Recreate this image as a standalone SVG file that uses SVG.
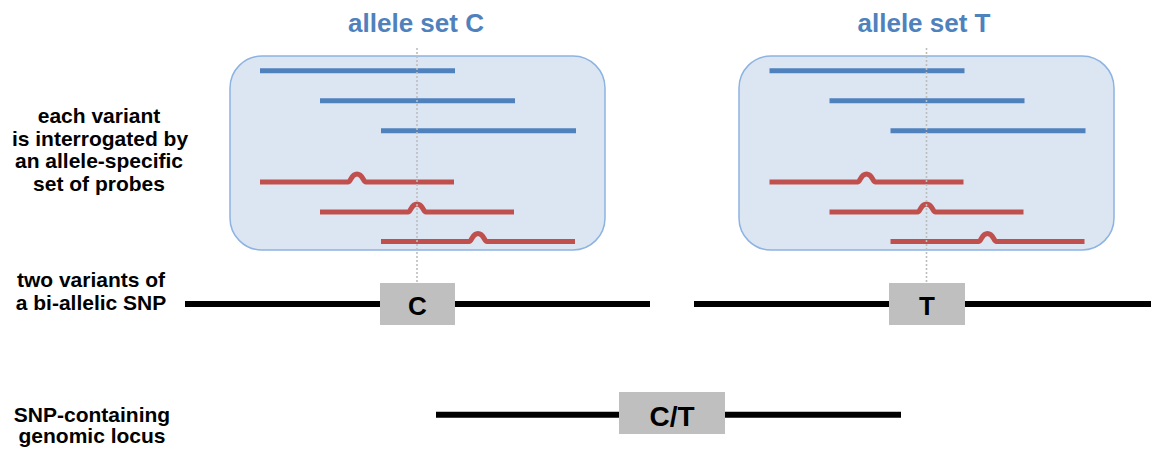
<svg xmlns="http://www.w3.org/2000/svg" width="1151" height="453" viewBox="0 0 1151 453">
<style>
.lbl{font-family:"Liberation Sans",Arial,sans-serif;font-weight:bold;font-size:21px;fill:#000;text-anchor:middle}
.title{font-family:"Liberation Sans",Arial,sans-serif;font-weight:bold;font-size:26px;fill:#4f81bd;text-anchor:middle}
.base{font-family:"Liberation Sans",Arial,sans-serif;font-weight:bold;font-size:26px;fill:#000;text-anchor:middle}
.panel{fill:#dce6f2;stroke:#8db3e2;stroke-width:1.5}
.blue{stroke:#4f81bd;stroke-width:5;fill:none}
.red{stroke:#c0504d;stroke-width:5;fill:none;stroke-linejoin:round}
.dna{stroke:#000;stroke-width:6}
.snp{fill:#bfbfbf}
.dot{stroke:#bdbdbd;stroke-width:1.6;stroke-dasharray:2 2}
</style>
<defs>
<g id="probes">
<line class="blue" x1="260" y1="70.7" x2="455" y2="70.7"/>
<line class="blue" x1="320" y1="100.7" x2="515" y2="100.7"/>
<line class="blue" x1="381" y1="130.7" x2="576" y2="130.7"/>
<path class="red" d="M260 182 H348 C351 182 351 174 357 174 C363 174 363 182 366 182 H454"/>
<path class="red" d="M320 212 H408 C411 212 411 204 417 204 C423 204 423 212 426 212 H514"/>
<path class="red" d="M381 241.5 H469 C472 241.5 472 233.5 478 233.5 C484 233.5 484 241.5 487 241.5 H575"/>
</g>
</defs>

<g id="labels">
<text class="lbl" x="99" y="123">each variant</text>
<text class="lbl" x="100" y="146">is interrogated by</text>
<text class="lbl" x="99" y="168">an allele-specific</text>
<text class="lbl" x="99" y="191">set of probes</text>
<text class="lbl" x="91" y="287">two variants of</text>
<text class="lbl" x="91" y="310">a bi-allelic SNP</text>
<text class="lbl" x="92" y="422">SNP-containing</text>
<text class="lbl" x="92" y="443">genomic locus</text>
</g>

<g id="set-C">
<text class="title" x="416" y="32">allele set C</text>
<rect class="panel" x="230" y="56" width="375" height="194" rx="32"/>
<use href="#probes"/>
</g>

<g id="set-T">
<text class="title" x="924" y="32">allele set T</text>
<rect class="panel" x="739" y="56" width="375" height="194" rx="32"/>
<use href="#probes" transform="translate(509.5 0)"/>
</g>

<g id="variant-C">
<line class="dna" x1="185" y1="304" x2="650" y2="304"/>
<rect class="snp" x="380" y="283" width="75" height="42"/>
<text class="base" x="417.5" y="315">C</text>
</g>

<g id="variant-T">
<line class="dna" x1="694" y1="304" x2="1151" y2="304"/>
<rect class="snp" x="889" y="283" width="76" height="42"/>
<text class="base" x="927" y="315">T</text>
</g>

<g id="locus">
<line class="dna" x1="436" y1="414.7" x2="901" y2="414.7"/>
<rect class="snp" x="619" y="392" width="106" height="42"/>
<text class="base" x="672" y="425.5" style="font-size:28px">C/T</text>
</g>

<g id="connectors">
<line class="dot" x1="417" y1="48" x2="417" y2="283"/>
<line class="dot" x1="926.5" y1="48" x2="926.5" y2="283"/>
</g>
</svg>
